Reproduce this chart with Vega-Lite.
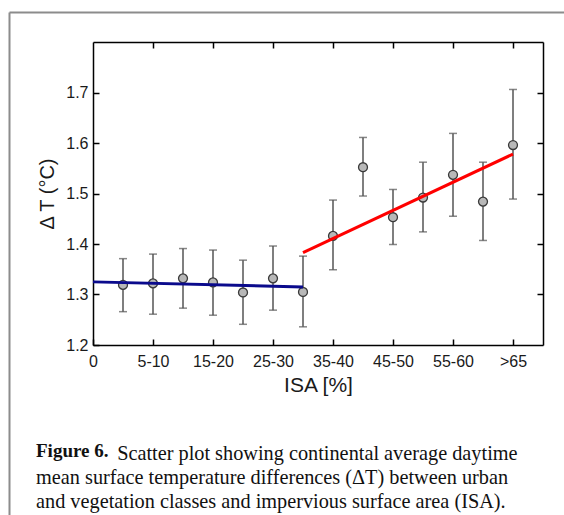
{
  "$schema": "https://vega.github.io/schema/vega-lite/v6.json",
  "width": 450,
  "height": 303,
  "autosize": {"type": "none"},
  "padding": {"left": 93, "top": 42, "right": 21, "bottom": 170},
  "background": "white",
  "datasets": {
    "pts": [
      {"isa": 5, "dt": 1.319, "lo": 1.266, "hi": 1.371},
      {"isa": 10, "dt": 1.322, "lo": 1.261, "hi": 1.380},
      {"isa": 15, "dt": 1.332, "lo": 1.273, "hi": 1.391},
      {"isa": 20, "dt": 1.324, "lo": 1.259, "hi": 1.388},
      {"isa": 25, "dt": 1.304, "lo": 1.241, "hi": 1.368},
      {"isa": 30, "dt": 1.332, "lo": 1.269, "hi": 1.396},
      {"isa": 35, "dt": 1.305, "lo": 1.236, "hi": 1.376},
      {"isa": 40, "dt": 1.416, "lo": 1.349, "hi": 1.487},
      {"isa": 45, "dt": 1.552, "lo": 1.495, "hi": 1.611},
      {"isa": 50, "dt": 1.453, "lo": 1.399, "hi": 1.508},
      {"isa": 55, "dt": 1.492, "lo": 1.424, "hi": 1.562},
      {"isa": 60, "dt": 1.537, "lo": 1.455, "hi": 1.619},
      {"isa": 65, "dt": 1.484, "lo": 1.407, "hi": 1.562},
      {"isa": 70, "dt": 1.596, "lo": 1.489, "hi": 1.706}
    ],
    "fits": [
      {"fit": "low", "isa": 0, "dt": 1.325},
      {"fit": "low", "isa": 35, "dt": 1.315},
      {"fit": "high", "isa": 35, "dt": 1.383},
      {"fit": "high", "isa": 70, "dt": 1.578}
    ]
  },
  "title": {
    "text": "Figure 6.",
    "subtitle": [
      "\u200b\u00a0\u00a0\u00a0\u00a0\u00a0\u00a0\u00a0\u00a0\u00a0\u00a0\u00a0\u00a0\u00a0\u00a0\u00a0\u00a0Scatter plot showing continental average daytime",
      "mean surface temperature differences (ΔT) between urban",
      "and vegetation classes and impervious surface area (ISA)."
    ],
    "orient": "bottom",
    "anchor": "start",
    "frame": "group",
    "dx": -57,
    "offset": -103,
    "font": "Liberation Serif",
    "fontSize": 19,
    "fontWeight": "bold",
    "color": "#111",
    "subtitleFont": "Liberation Serif",
    "subtitleFontSize": 20.3,
    "subtitleFontWeight": "normal",
    "subtitleColor": "#111",
    "subtitleLineHeight": 24,
    "subtitlePadding": -17
  },
  "config": {
    "view": {"stroke": null},
    "axis": {
      "domainColor": "black",
      "domainWidth": 1.5,
      "tickColor": "black",
      "tickWidth": 1.5,
      "tickSize": -6,
      "grid": false,
      "labelFont": "Liberation Sans",
      "labelFontSize": 16,
      "labelColor": "#1a1a1a",
      "titleFont": "Liberation Sans",
      "titleFontSize": 21,
      "titleFontWeight": "normal",
      "titleColor": "#1a1a1a"
    }
  },
  "resolve": {
    "scale": {"x": "independent", "y": "independent"},
    "axis": {"x": "independent", "y": "independent"}
  },
  "layer": [
    {
      "data": {"name": "pts"},
      "mark": {"type": "point", "opacity": 0},
      "encoding": {
        "x": {
          "field": "isa", "type": "quantitative",
          "scale": {"domain": [0, 75], "range": [-84, 480], "nice": false, "zero": false},
          "axis": {"orient": "top", "offset": 30, "title": null, "ticks": false, "labels": false, "domainColor": "#8c8c8c", "domainWidth": 2}
        },
        "y": {
          "field": "dt", "type": "quantitative",
          "scale": {"domain": [1.2, 1.8], "range": [473, -30], "nice": false, "zero": false},
          "axis": {"orient": "left", "offset": 84, "title": null, "ticks": false, "labels": false, "domainColor": "#8c8c8c", "domainWidth": 2}
        }
      }
    },
    {
      "data": {"name": "pts"},
      "mark": {"type": "rule", "color": "#555", "strokeWidth": 1.5},
      "encoding": {
        "x": {
          "field": "isa", "type": "quantitative",
          "scale": {"domain": [0, 75], "nice": false, "zero": false},
          "axis": {
            "orient": "bottom",
            "title": "ISA [%]",
            "values": [0, 10, 20, 30, 40, 50, 60, 70],
            "labelExpr": "['0','5-10','15-20','25-30','35-40','45-50','55-60','>65'][datum.value/10]",
            "labelPadding": 14,
            "labelFlush": false,
            "titlePadding": 5
          }
        },
        "y": {
          "field": "lo", "type": "quantitative",
          "scale": {"domain": [1.2, 1.8], "nice": false, "zero": false},
          "axis": {
            "orient": "left",
            "title": "Δ T (°C)",
            "titleFontSize": 20,
            "values": [1.2, 1.3, 1.4, 1.5, 1.6, 1.7],
            "format": ".1f",
            "labelPadding": 11,
            "labelFlush": false,
            "titlePadding": 8
          }
        },
        "y2": {"field": "hi"}
      }
    },
    {
      "data": {"name": "pts"},
      "mark": {"type": "tick", "orient": "horizontal", "color": "#555", "size": 8, "thickness": 1.5},
      "encoding": {
        "x": {
          "field": "isa", "type": "quantitative",
          "scale": {"domain": [0, 75], "nice": false, "zero": false},
          "axis": {"orient": "top", "title": null, "values": [10, 20, 30, 40, 50, 60, 70], "labels": false}
        },
        "y": {
          "field": "lo", "type": "quantitative",
          "scale": {"domain": [1.2, 1.8], "nice": false, "zero": false},
          "axis": {"orient": "right", "title": null, "values": [1.3, 1.4, 1.5, 1.6, 1.7], "labels": false}
        }
      }
    },
    {
      "data": {"name": "pts"},
      "mark": {"type": "tick", "orient": "horizontal", "color": "#555", "size": 8, "thickness": 1.5},
      "encoding": {
        "x": {"field": "isa", "type": "quantitative", "scale": {"domain": [0, 75], "nice": false, "zero": false}, "axis": null},
        "y": {"field": "hi", "type": "quantitative", "scale": {"domain": [1.2, 1.8], "nice": false, "zero": false}, "axis": null}
      }
    },
    {
      "data": {"name": "pts"},
      "mark": {"type": "point", "filled": true, "fill": "#b8b8b8", "stroke": "#3a3a3a", "strokeWidth": 1.3, "size": 80, "opacity": 1},
      "encoding": {
        "x": {"field": "isa", "type": "quantitative", "scale": {"domain": [0, 75], "nice": false, "zero": false}, "axis": null},
        "y": {"field": "dt", "type": "quantitative", "scale": {"domain": [1.2, 1.8], "nice": false, "zero": false}, "axis": null}
      }
    },
    {
      "data": {"name": "fits"},
      "mark": {"type": "line", "strokeWidth": 3},
      "encoding": {
        "x": {"field": "isa", "type": "quantitative", "scale": {"domain": [0, 75], "nice": false, "zero": false}, "axis": null},
        "y": {"field": "dt", "type": "quantitative", "scale": {"domain": [1.2, 1.8], "nice": false, "zero": false}, "axis": null},
        "color": {
          "field": "fit", "type": "nominal",
          "scale": {"domain": ["low", "high"], "range": ["#0a0a8c", "#ff0000"]},
          "legend": null
        }
      }
    }
  ]
}
